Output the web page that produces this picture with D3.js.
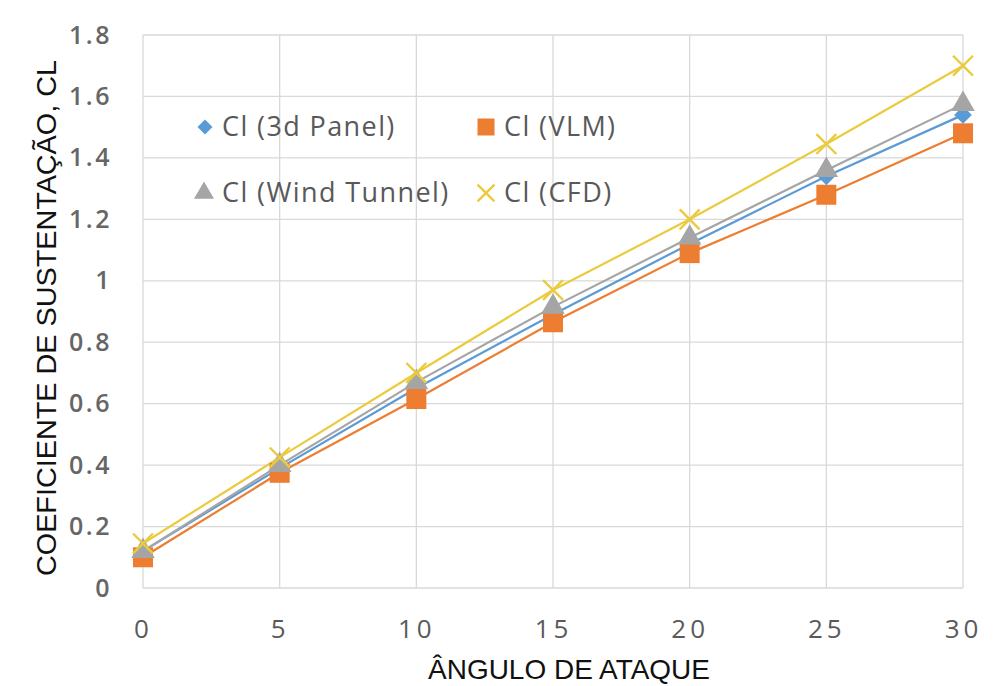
<!DOCTYPE html>
<html>
<head>
<meta charset="utf-8">
<script src="https://cdn.jsdelivr.net/npm/d3@7"></script>
<style>
  html, body { margin: 0; padding: 0; background: #fff; }
  svg { display: block; }
</style>
</head>
<body>
<svg id="chart" width="993" height="686"></svg>
<script>
// Angle of attack (degrees)
const angles = [0, 5, 10, 15, 20, 25, 30];

// Lift coefficient for each method
const clPanel3d   = [0.12, 0.39, 0.65, 0.89, 1.12, 1.34, 1.54];
const clVLM       = [0.10, 0.375, 0.615, 0.865, 1.09, 1.28, 1.48];
const clWind      = [0.12, 0.40, 0.67, 0.915, 1.14, 1.36, 1.575];
const clCFD       = [0.145, 0.425, 0.70, 0.97, 1.20, 1.445, 1.70];

const seriesNames = ["Cl (3d Panel)", "Cl (VLM)", "Cl (Wind Tunnel)", "Cl (CFD)"];
const xTicks = [0, 5, 10, 15, 20, 25, 30];
const yTicks = [0, 0.2, 0.4, 0.6, 0.8, 1, 1.2, 1.4, 1.6, 1.8];

const series = [
  { name: seriesNames[0], values: clPanel3d, color: "#5B9BD5", marker: "diamond" },
  { name: seriesNames[1], values: clVLM,     color: "#ED7D31", marker: "square" },
  { name: seriesNames[2], values: clWind,    color: "#A5A5A5", marker: "triangle" },
  { name: seriesNames[3], values: clCFD,     color: "#EBCB3E", marker: "cross" }
];

const svg = d3.select("#chart");
const x = d3.scaleLinear().domain([0, 30]).range([143, 963]);
const y = d3.scaleLinear().domain([0, 1.8]).range([588, 35]);

// Gridlines
const grid = svg.append("g").attr("stroke", "#D9D9D9").attr("stroke-width", 1.3);
grid.selectAll("line.h").data(yTicks).join("line")
  .attr("x1", x(0)).attr("x2", x(30))
  .attr("y1", d => y(d)).attr("y2", d => y(d));
grid.selectAll("line.v").data(xTicks).join("line")
  .attr("y1", y(0)).attr("y2", y(1.8))
  .attr("x1", d => x(d)).attr("x2", d => x(d));

// Axes (labels only)
const tickFont = "'Open Sans', sans-serif";
const yAxis = svg.append("g").attr("transform", `translate(${x(0)},0)`)
  .call(d3.axisLeft(y).tickValues(yTicks).tickSize(0).tickPadding(31)
    .tickFormat(d => d3.format("")(+d.toFixed(1))));
const xAxis = svg.append("g").attr("transform", `translate(0,${y(0)})`)
  .call(d3.axisBottom(x).tickValues(xTicks).tickSize(0).tickPadding(32));
[yAxis, xAxis].forEach(a => {
  a.select(".domain").remove();
  a.selectAll("text")
    .attr("font-family", tickFont)
    .attr("font-size", 25)
    .attr("font-weight", 600)
    .attr("letter-spacing", 2.5)
    .attr("fill", "#666");
});
xAxis.selectAll("text").attr("font-size", 26).attr("letter-spacing", 4)
  .attr("font-weight", 400).attr("fill", "#5a5a5a");

// Axis titles
svg.append("text")
  .attr("x", 569).attr("y", 679)
  .attr("text-anchor", "middle")
  .attr("font-family", "'Liberation Sans', Arial, sans-serif")
  .attr("font-size", 28)
  .attr("textLength", 282).attr("lengthAdjust", "spacingAndGlyphs")
  .attr("fill", "#111")
  .text("ÂNGULO DE ATAQUE");
svg.append("text")
  .attr("transform", "translate(56,318) rotate(-90)")
  .attr("text-anchor", "middle")
  .attr("font-family", "'Liberation Sans', Arial, sans-serif")
  .attr("font-size", 28)
  .attr("textLength", 516).attr("lengthAdjust", "spacingAndGlyphs")
  .attr("fill", "#111")
  .text("COEFICIENTE DE SUSTENTAÇÃO, CL");

// Marker shapes
function drawMarker(g, type, color, scale) {
  const s = scale || 1;
  if (type === "diamond") {
    g.append("path").attr("d", d3.symbol(d3.symbolDiamond2, 200 * s * s)())
      .attr("fill", color);
  } else if (type === "square") {
    g.append("path").attr("d", d3.symbol(d3.symbolSquare, 400 * s * s)())
      .attr("fill", color);
  } else if (type === "triangle") {
    g.append("path").attr("d", d3.symbol(d3.symbolTriangle, 240 * s * s)())
      .attr("fill", color);
  } else if (type === "cross") {
    g.append("path").attr("d", d3.symbol(d3.symbolTimes, 260 * s * s)())
      .attr("stroke", color).attr("stroke-width", 2.4).attr("fill", "none");
  }
}

// Lines then markers for each series
const line = d3.line().x((d, i) => x(angles[i])).y(d => y(d));
series.forEach(s => {
  svg.append("path").datum(s.values)
    .attr("d", line)
    .attr("fill", "none")
    .attr("stroke", s.color)
    .attr("stroke-width", 2.2)
    .attr("stroke-linejoin", "round");
});
series.forEach(s => {
  s.values.forEach((v, i) => {
    const g = svg.append("g").attr("transform", `translate(${x(angles[i])},${y(v)})`);
    drawMarker(g, s.marker, s.color, 1);
  });
});

// Legend
const legendPos = [
  { mx: 205, my: 127, tx: 222, ty: 127 },
  { mx: 486, my: 127, tx: 504, ty: 127 },
  { mx: 204, my: 193, tx: 222, ty: 193 },
  { mx: 486, my: 193, tx: 504, ty: 193 }
];
series.forEach((s, i) => {
  const p = legendPos[i];
  const g = svg.append("g").attr("transform", `translate(${p.mx},${p.my})`);
  drawMarker(g, s.marker, s.color, 0.85);
  svg.append("text")
    .attr("x", p.tx).attr("y", p.ty)
    .attr("dy", "0.35em")
    .attr("font-family", tickFont)
    .attr("font-size", 27)
    .attr("letter-spacing", 1.4)
    .attr("fill", "#595959")
    .text(s.name);
});
</script>
</body>
</html>
